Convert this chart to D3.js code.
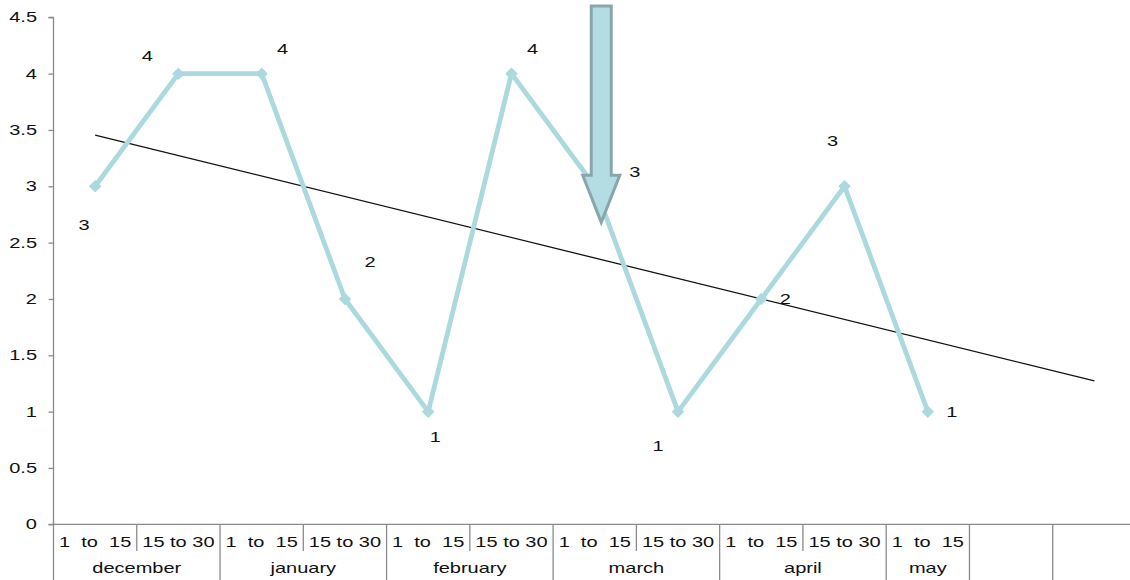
<!DOCTYPE html>
<html>
<head>
<meta charset="utf-8">
<script src="https://cdn.jsdelivr.net/npm/d3@7"></script>
<style>
  html, body { margin: 0; padding: 0; background: #fff; }
  svg { display: block; }
  text { font-family: "Liberation Sans", Arial, sans-serif; fill: #111; white-space: pre; }
</style>
</head>
<body>
<svg id="chart" width="1130" height="580"></svg>
<script>
// Half-month periods on the category axis (13 slots, the last two empty)
const periods = ["1  to  15", "15 to 30", "1  to  15", "15 to 30", "1  to  15", "15 to 30",
                 "1  to  15", "15 to 30", "1  to  15", "15 to 30", "1  to  15", "", ""];
// Month groups and how many periods each spans
const months = ["december", "january", "february", "march", "april", "may", "", ""];
const monthSpans = [2, 2, 2, 2, 2, 1, 1, 1];
// Score recorded in each period
const scores = [3, 4, 4, 2, 1, 4, 3, 1, 2, 3, 1];
// Where each score label sits around its point
const labelPlacement = ["below-left", "above-left", "above-right", "above-right-high", "below",
                        "above-right", "right-far", "below-left-far", "right", "above", "right"];
const yTicks = [0, 0.5, 1, 1.5, 2, 2.5, 3, 3.5, 4, 4.5];

const svg = d3.select("#chart");
const plotLeft = 53.5, plotRight = 1136, plotTop = 17.3, plotBottom = 524.3;
const stretch = 1.4;
const fontSize = 14.3;

const x = d3.scaleBand().domain(d3.range(periods.length)).range([plotLeft, plotRight]).padding(0);
const cx = i => x(i) + x.bandwidth() / 2;
const y = d3.scaleLinear().domain([0, 4.5]).range([plotBottom, plotTop]);

const axisColor = "#8a8a8a";

// Horizontally widened text helper
function label(g, tx, ty, str, anchor) {
  return g.append("text")
    .attr("transform", `translate(${tx},${ty}) scale(${stretch},1)`)
    .attr("text-anchor", anchor || "middle")
    .attr("dominant-baseline", "central")
    .style("font-size", fontSize + "px")
    .text(str);
}

// Y axis
const yAxis = svg.append("g")
  .attr("transform", `translate(${plotLeft},0)`)
  .call(d3.axisLeft(y).tickValues(yTicks).tickSize(5).tickFormat(""));
yAxis.select(".domain").attr("stroke", axisColor).attr("stroke-width", 1.3).attr("d", `M-5,${plotTop}H0V${plotBottom}`);
yAxis.selectAll(".tick line").attr("stroke", axisColor).attr("stroke-width", 1.3);
const yLab = svg.append("g");
yTicks.forEach(t => label(yLab, 37, y(t), String(t), "end"));

// Category table under the plot
const cat = svg.append("g");
cat.append("line").attr("x1", plotLeft - 5).attr("x2", plotRight).attr("y1", plotBottom).attr("y2", plotBottom)
  .attr("stroke", axisColor).attr("stroke-width", 1.3);
const rowMid = 551, tableBottom = 580;
// period separators (short) and month separators (full height)
const monthEdges = new Set([0]);
let acc = 0;
monthSpans.forEach(s => { acc += s; monthEdges.add(acc); });
d3.range(periods.length + 1).forEach(k => {
  const xx = k < periods.length ? x(k) : plotRight;
  cat.append("line")
    .attr("x1", xx).attr("x2", xx)
    .attr("y1", plotBottom).attr("y2", monthEdges.has(k) ? tableBottom : rowMid)
    .attr("stroke", axisColor).attr("stroke-width", 1.3);
});
periods.forEach((p, i) => { if (p) label(cat, cx(i), 542, p); });
acc = 0;
months.forEach((m, j) => {
  const start = acc, end = acc + monthSpans[j];
  acc = end;
  if (!m) return;
  const mid = (x(start) + (end < periods.length ? x(end) : plotRight)) / 2;
  label(cat, mid, 568, m);
});

// Linear trend of the scores, drawn across all 13 periods
const n = scores.length;
const xs = d3.range(1, n + 1);
const mx = d3.mean(xs), my = d3.mean(scores);
const slope = d3.sum(xs, (v, i) => (v - mx) * (scores[i] - my)) / d3.sum(xs, v => (v - mx) ** 2);
const intercept = my - slope * mx;
const trendEnd = periods.length;
svg.append("line")
  .attr("x1", cx(0)).attr("y1", y(intercept + slope * 1))
  .attr("x2", cx(trendEnd - 1)).attr("y2", y(intercept + slope * trendEnd))
  .attr("stroke", "#111").attr("stroke-width", 1.3);

// Score line with diamond markers
const lineColor = "#acd9dd";
svg.append("path")
  .datum(scores)
  .attr("fill", "none")
  .attr("stroke", lineColor)
  .attr("stroke-width", 4.8)
  .attr("stroke-linejoin", "round")
  .attr("d", d3.line().x((d, i) => cx(i)).y(d => y(d)));
svg.append("g").selectAll("path")
  .data(scores)
  .join("path")
  .attr("transform", (d, i) => `translate(${cx(i)},${y(d)}) rotate(45)`)
  .attr("d", d3.symbol().type(d3.symbolSquare).size(78))
  .attr("fill", lineColor);

// Score labels
const offsets = {
  "below-left": [-11, 39], "below-left-far": [-20, 34], "above-left": [-31, -18],
  "above-right": [21, -25], "above-right-high": [25, -37],
  "below": [7, 25], "right-far": [40, -14], "right": [24, 0], "above": [-12, -45]
};
const labG = svg.append("g");
scores.forEach((s, i) => {
  const [dx, dy] = offsets[labelPlacement[i]];
  label(labG, cx(i) + dx, y(s) + dy, String(s));
});

// Down arrow marking the start of March
const arrowSlot = 6, tipValue = 2.68;
const ax = cx(arrowSlot) + 6.5;
const tipY = y(tipValue), arrowTop = 6, headH = 47, shaftHalf = 10, headHalf = 18.5;
svg.append("path")
  .attr("d", `M${ax - shaftHalf},${arrowTop} H${ax + shaftHalf} V${tipY - headH} H${ax + headHalf}
              L${ax},${tipY} L${ax - headHalf},${tipY - headH} H${ax - shaftHalf} Z`)
  .attr("fill", "#b3dde2")
  .attr("stroke", "#89a6aa")
  .attr("stroke-width", 3)
  .attr("stroke-linejoin", "miter");
</script>
</body>
</html>
